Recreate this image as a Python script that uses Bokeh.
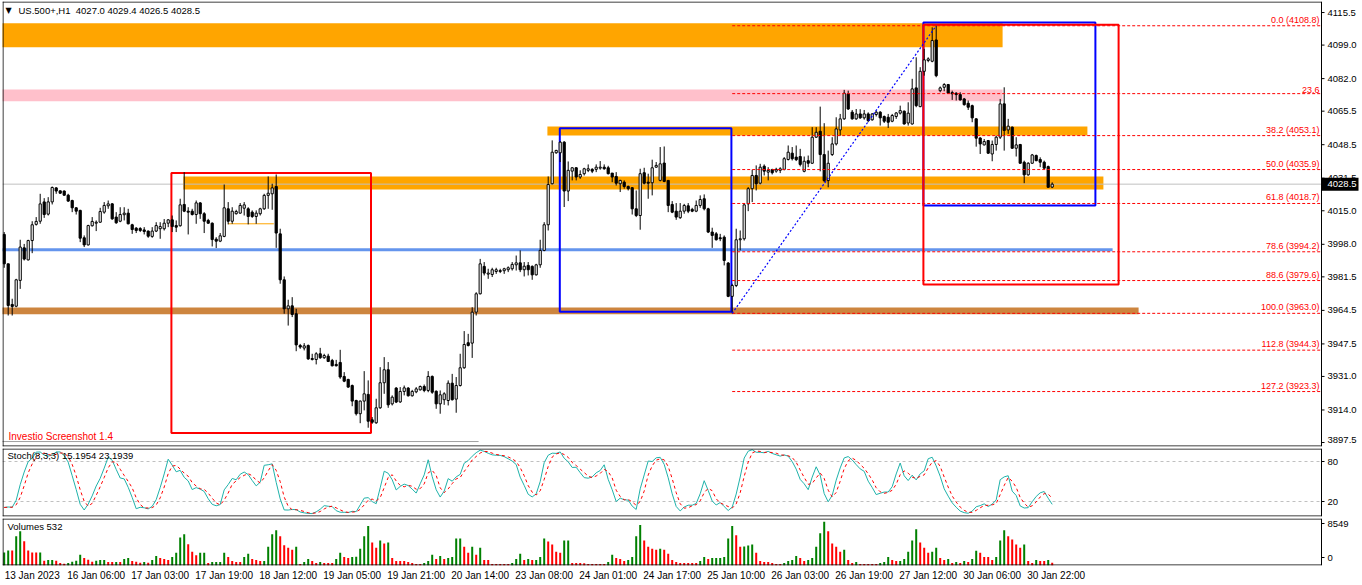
from bokeh.plotting import figure
from bokeh.layouts import column
from bokeh.models import Range1d, FixedTicker, Label
from bokeh.embed import file_html
from bokeh.resources import INLINE
from bokeh.core.properties import value

FONT = "Liberation Sans"

# ---------------- data (US.500+, H1) ----------------
opens = [
 4003.0, 3988.1, 3967.5, 3966.6, 3979.7, 3996.2, 3990.1, 3999.9, 4008.1, 4009.7,
 4019.5, 4013.3, 4019.5, 4026.6, 4025.1, 4025.0, 4022.9, 4020.2, 4016.5, 4015.2,
 4001.3, 3997.7, 4007.4, 4008.7, 4009.2, 4014.3, 4017.5, 4018.5, 4011.8, 4009.7,
 4013.0, 4013.8, 4007.9, 4006.2, 4006.0, 4005.3, 4004.7, 4002.0, 4004.7, 4005.9,
 4005.9, 4008.7, 4010.4, 4007.5, 4007.4, 4018.2, 4014.8, 4014.8, 4013.1, 4019.0,
 4013.5, 4010.1, 4008.7, 4000.6, 3999.6, 4002.0, 4016.0, 4009.7, 4013.5, 4013.8,
 4016.3, 4016.0, 4014.3, 4012.1, 4013.5, 4016.0, 4022.8, 4023.6, 4027.3, 4003.3,
 3980.0, 3965.3, 3966.8, 3962.8, 3946.7, 3945.4, 3946.7, 3940.1, 3939.6, 3942.5,
 3940.5, 3941.3, 3939.1, 3937.1, 3938.1, 3931.0, 3929.5, 3926.4, 3918.8, 3912.1,
 3918.5, 3921.9, 3909.0, 3907.5, 3915.1, 3927.8, 3934.4, 3917.1, 3925.1, 3918.1,
 3923.4, 3925.1, 3921.2, 3923.2, 3924.2, 3925.9, 3923.9, 3931.0, 3923.5, 3917.1,
 3919.2, 3918.8, 3927.6, 3919.5, 3926.4, 3935.4, 3948.1, 3947.9, 3963.6, 3972.9,
 3986.8, 3982.9, 3982.7, 3984.2, 3984.2, 3984.6, 3985.1, 3985.6, 3987.6, 3988.6,
 3985.1, 3987.3, 3986.8, 3982.5, 3987.6, 3994.9, 4007.9, 4028.7, 4044.4, 4044.4,
 4049.8, 4025.0, 4035.1, 4036.8, 4032.1, 4033.8, 4035.5, 4036.0, 4036.0, 4036.6,
 4037.1, 4036.8, 4034.1, 4032.4, 4028.7, 4029.5, 4027.3, 4026.7, 4016.0, 4012.6,
 4034.3, 4029.5, 4029.2, 4037.1, 4030.4, 4039.2, 4030.4, 4018.2, 4014.8, 4011.5,
 4014.8, 4017.5, 4015.7, 4014.8, 4017.7, 4021.1, 4016.0, 4004.2, 4003.3, 4001.3,
 4001.6, 3988.5, 3971.6, 3977.1, 4000.3, 4000.8, 4018.5, 4026.2, 4032.9, 4029.0,
 4037.6, 4034.6, 4035.8, 4035.1, 4035.5, 4036.0, 4041.0, 4044.2, 4042.2, 4042.5,
 4035.0, 4040.4, 4039.1, 4052.3, 4055.3, 4043.5, 4030.3, 4043.5, 4048.9, 4056.0,
 4061.6, 4074.3, 4065.0, 4061.6, 4064.1, 4062.1, 4064.1, 4061.1, 4063.8, 4065.0,
 4062.8, 4062.4, 4060.4, 4062.8, 4064.5, 4065.5, 4059.5, 4059.0, 4077.3, 4067.8,
 4085.7, 4091.2, 4090.8, 4101.6, 4075.9, 4077.6, 4079.0, 4074.9, 4074.6, 4073.9,
 4071.7, 4069.5, 4068.3, 4061.6, 4051.9, 4048.4, 4050.6, 4043.8, 4048.6, 4052.3,
 4069.2, 4056.0, 4057.4, 4046.7, 4048.6, 4039.6, 4033.2, 4039.1, 4043.0, 4041.0,
 4039.6, 4037.4, 4027.0]
highs = [
 4004.2, 3988.1, 3970.4, 3980.5, 4000.3, 3998.2, 4000.3, 4009.7, 4011.8, 4023.6,
 4021.4, 4021.9, 4027.3, 4027.0, 4025.3, 4025.3, 4023.6, 4020.6, 4016.8, 4015.5,
 4002.5, 4007.9, 4011.8, 4010.1, 4016.5, 4019.4, 4020.2, 4018.9, 4014.3, 4016.8,
 4016.8, 4016.0, 4008.4, 4006.7, 4006.7, 4006.7, 4005.0, 4006.7, 4009.2, 4009.2,
 4010.8, 4010.8, 4012.6, 4010.1, 4021.1, 4034.6, 4016.8, 4016.0, 4020.2, 4019.4,
 4014.3, 4010.9, 4009.1, 4001.6, 4003.7, 4028.3, 4019.4, 4016.8, 4015.5, 4018.9,
 4019.4, 4016.8, 4015.2, 4015.2, 4016.5, 4023.6, 4032.4, 4028.7, 4033.4, 4005.9,
 3981.7, 3969.9, 3971.2, 3965.3, 3947.5, 3947.9, 3947.2, 3942.5, 3943.3, 3945.5,
 3942.5, 3942.5, 3939.9, 3939.4, 3944.5, 3933.2, 3929.8, 3926.9, 3919.2, 3918.8,
 3933.7, 3929.0, 3910.4, 3919.7, 3935.7, 3940.8, 3938.3, 3921.4, 3925.6, 3925.6,
 3926.4, 3925.6, 3924.2, 3925.6, 3926.4, 3926.9, 3933.7, 3931.5, 3923.9, 3923.9,
 3923.0, 3929.0, 3932.3, 3930.7, 3942.5, 3954.0, 3952.6, 3966.1, 3973.7, 3990.6,
 3989.0, 3985.6, 3986.1, 3986.1, 3985.6, 3986.1, 3986.8, 3989.0, 3992.3, 3994.9,
 3989.0, 3989.0, 3987.3, 3988.1, 4000.3, 4009.2, 4032.4, 4050.7, 4045.9, 4050.3,
 4050.3, 4040.0, 4037.1, 4037.1, 4035.5, 4036.8, 4038.5, 4036.6, 4038.5, 4040.2,
 4038.5, 4037.8, 4034.1, 4034.6, 4030.7, 4030.4, 4027.8, 4027.0, 4025.3, 4036.3,
 4036.8, 4033.8, 4040.9, 4039.7, 4047.3, 4047.6, 4030.4, 4019.9, 4018.9, 4018.9,
 4018.5, 4018.9, 4016.5, 4020.2, 4022.8, 4023.3, 4016.5, 4006.4, 4004.2, 4003.3,
 4002.5, 3989.0, 3978.0, 4005.9, 4005.0, 4018.9, 4027.0, 4035.8, 4038.0, 4038.8,
 4038.5, 4037.1, 4036.3, 4036.8, 4037.1, 4042.2, 4048.1, 4047.3, 4048.1, 4046.4,
 4042.5, 4043.0, 4057.4, 4057.4, 4067.8, 4059.4, 4045.5, 4052.3, 4062.4, 4064.1,
 4076.3, 4075.9, 4066.1, 4066.6, 4066.5, 4066.1, 4064.9, 4064.5, 4065.8, 4065.5,
 4063.3, 4064.1, 4064.1, 4065.0, 4068.3, 4065.8, 4070.0, 4081.9, 4092.8, 4087.8,
 4097.1, 4092.8, 4108.0, 4108.8, 4078.0, 4079.7, 4079.3, 4075.9, 4075.1, 4075.1,
 4072.2, 4070.9, 4068.8, 4061.9, 4052.3, 4051.4, 4050.9, 4050.6, 4053.1, 4071.7,
 4077.6, 4061.6, 4057.7, 4052.3, 4048.9, 4040.4, 4039.6, 4043.8, 4043.5, 4042.1,
 4040.4, 4037.9, 4029.4]
lows = [
 3986.1, 3961.9, 3961.9, 3966.1, 3975.4, 3989.8, 3989.8, 3993.5, 4007.5, 4008.4,
 4011.4, 4012.6, 4018.2, 4023.6, 4023.6, 4022.6, 4019.5, 4014.3, 4013.1, 3999.1,
 3996.6, 3997.4, 4007.0, 4004.7, 4008.9, 4013.5, 4016.0, 4010.4, 4008.4, 4009.2,
 4010.1, 4008.1, 4003.3, 4003.7, 4004.2, 4003.0, 4001.3, 4001.3, 4004.2, 4000.8,
 4005.0, 4006.7, 4004.2, 4004.2, 4007.0, 4014.3, 4003.0, 4012.6, 4008.4, 4010.9,
 4003.7, 4008.4, 3996.9, 3996.1, 3999.1, 4001.6, 4008.1, 4008.4, 4013.1, 4013.5,
 4012.6, 4008.1, 4011.4, 4008.4, 4012.6, 4015.5, 4016.0, 4015.5, 3996.2, 3978.0,
 3962.8, 3956.8, 3961.1, 3943.8, 3945.0, 3944.2, 3939.4, 3939.1, 3937.1, 3939.9,
 3939.9, 3938.3, 3936.1, 3936.1, 3929.8, 3928.1, 3925.2, 3915.9, 3911.2, 3907.3,
 3913.8, 3905.0, 3907.0, 3907.0, 3914.6, 3922.2, 3915.1, 3916.3, 3917.5, 3917.6,
 3921.4, 3920.8, 3920.8, 3922.5, 3923.9, 3923.0, 3923.0, 3922.2, 3914.6, 3912.1,
 3916.6, 3916.3, 3918.8, 3912.6, 3925.9, 3934.9, 3946.2, 3940.4, 3961.9, 3972.6,
 3982.2, 3980.5, 3981.4, 3983.0, 3983.4, 3983.0, 3983.9, 3984.7, 3984.7, 3983.9,
 3981.7, 3982.2, 3980.0, 3982.2, 3986.1, 3994.5, 4005.0, 4028.4, 4043.9, 4039.7,
 4016.9, 4019.9, 4030.4, 4030.4, 4031.2, 4032.9, 4034.6, 4034.1, 4034.6, 4035.8,
 4035.8, 4033.4, 4029.5, 4027.8, 4024.5, 4026.2, 4025.3, 4013.1, 4011.8, 4005.4,
 4028.4, 4021.1, 4022.8, 4036.8, 4029.9, 4029.5, 4014.3, 4013.8, 4010.4, 4010.9,
 4013.5, 4013.8, 4014.3, 4014.3, 4016.5, 4015.2, 4003.7, 3996.2, 3999.9, 3999.6,
 3987.3, 3971.2, 3963.0, 3976.3, 3994.9, 3999.9, 4014.8, 4019.4, 4025.3, 4028.4,
 4032.9, 4030.4, 4033.4, 4034.3, 4034.1, 4035.5, 4040.5, 4040.5, 4040.2, 4037.5,
 4034.5, 4037.1, 4038.8, 4051.9, 4035.0, 4029.5, 4026.9, 4042.8, 4048.1, 4053.1,
 4061.1, 4066.1, 4061.2, 4061.1, 4061.6, 4061.2, 4059.9, 4060.7, 4062.8, 4058.2,
 4059.5, 4057.0, 4059.9, 4061.6, 4063.8, 4058.7, 4058.2, 4058.7, 4067.5, 4067.5,
 4083.5, 4090.3, 4090.3, 4082.7, 4075.1, 4075.6, 4074.3, 4071.2, 4070.9, 4070.9,
 4068.3, 4066.1, 4059.9, 4047.5, 4043.8, 4048.1, 4043.8, 4040.1, 4045.5, 4051.4,
 4045.5, 4054.0, 4046.4, 4042.5, 4038.8, 4029.0, 4032.8, 4038.8, 4040.1, 4037.1,
 4036.2, 4026.6, 4026.5]
closes = [
 3988.1, 3967.0, 3966.5, 3980.0, 3996.6, 3990.5, 3999.9, 4007.9, 4009.6, 4018.5,
 4013.1, 4019.5, 4026.8, 4025.0, 4023.9, 4022.9, 4019.9, 4016.5, 4014.8, 4001.1,
 3997.7, 4007.5, 4009.6, 4009.2, 4014.6, 4017.7, 4018.5, 4010.9, 4008.9, 4013.1,
 4013.8, 4008.4, 4005.5, 4005.0, 4005.0, 4004.5, 4002.1, 4004.7, 4007.5, 4007.0,
 4008.7, 4010.4, 4007.0, 4006.7, 4018.0, 4014.8, 4014.3, 4013.1, 4019.0, 4013.5,
 4009.7, 4008.7, 4000.4, 3999.6, 4002.3, 4016.5, 4009.7, 4014.8, 4014.6, 4017.7,
 4018.0, 4012.1, 4012.1, 4013.8, 4016.0, 4022.8, 4023.9, 4026.6, 4003.7, 3980.0,
 3965.3, 3966.8, 3962.4, 3947.0, 3945.9, 3946.5, 3939.9, 3939.6, 3942.5, 3940.5,
 3941.6, 3938.6, 3936.4, 3936.4, 3930.7, 3928.6, 3925.6, 3918.5, 3912.1, 3918.5,
 3922.2, 3908.3, 3907.8, 3915.1, 3927.8, 3934.4, 3916.6, 3920.5, 3918.0, 3923.4,
 3925.2, 3921.2, 3923.4, 3924.7, 3925.9, 3923.9, 3931.0, 3923.0, 3917.1, 3921.7,
 3922.2, 3927.6, 3919.2, 3926.4, 3935.4, 3947.2, 3946.7, 3963.6, 3972.9, 3988.1,
 3983.4, 3983.4, 3985.1, 3985.1, 3984.7, 3985.6, 3986.1, 3987.8, 3988.6, 3985.1,
 3986.9, 3985.1, 3982.5, 3987.6, 3994.9, 4007.9, 4028.3, 4044.7, 4045.6, 4049.8,
 4025.0, 4035.5, 4036.8, 4032.1, 4033.4, 4036.3, 4036.3, 4035.1, 4037.1, 4037.1,
 4036.3, 4033.8, 4032.1, 4029.0, 4030.4, 4027.3, 4026.2, 4016.0, 4012.6, 4033.8,
 4029.0, 4029.0, 4036.8, 4038.0, 4038.8, 4029.9, 4017.7, 4014.3, 4011.8, 4014.8,
 4017.7, 4014.8, 4014.8, 4017.7, 4020.7, 4016.0, 4004.2, 4002.5, 4000.3, 4000.8,
 3989.8, 3971.6, 3977.1, 4000.3, 4000.8, 4018.0, 4026.2, 4032.9, 4028.7, 4037.1,
 4035.1, 4035.5, 4034.3, 4036.0, 4036.3, 4041.4, 4044.7, 4041.4, 4040.9, 4038.5,
 4040.1, 4039.1, 4052.3, 4054.8, 4043.5, 4030.3, 4039.1, 4048.9, 4056.5, 4061.6,
 4074.6, 4066.6, 4061.6, 4064.1, 4062.1, 4064.1, 4060.7, 4064.1, 4065.0, 4062.1,
 4060.4, 4059.9, 4063.3, 4064.6, 4065.8, 4059.0, 4064.5, 4076.8, 4068.3, 4085.7,
 4091.5, 4092.0, 4101.3, 4083.5, 4077.3, 4079.0, 4074.6, 4074.3, 4073.9, 4071.2,
 4068.8, 4067.5, 4062.1, 4051.8, 4048.9, 4050.1, 4044.2, 4048.6, 4052.3, 4069.2,
 4055.7, 4057.9, 4046.7, 4048.4, 4039.1, 4033.2, 4039.1, 4043.3, 4040.4, 4039.6,
 4036.6, 4026.9, 4028.5]
volumes = [
 2550, 2950, 2950, 5700, 6700, 4760, 2950, 2550, 2540, 2560,
 940, 1070, 1080, 940, 470, 335, 470, 740, 940, 2080,
 1470, 1140, 740, 940, 1070, 1080, 670, 670, 680, 670,
 1270, 1470, 870, 740, 540, 670, 540, 1070, 1880, 1470,
 1270, 1070, 1680, 2480, 5490, 6100, 4150, 2680, 2010, 2480,
 2490, 470, 670, 680, 690, 2480, 1680, 870, 670, 670,
 1680, 2280, 1270, 1070, 870, 880, 3690, 6100, 6900, 5700,
 3950, 3480, 3080, 3690, 270, 670, 1270, 870, 470, 670,
 470, 470, 470, 1270, 2480, 1680, 1470, 1680, 1690, 3280,
 5700, 7700, 4490, 3480, 4890, 4290, 4490, 1470, 870, 870,
 870, 670, 470, 270, 270, 470, 870, 2080, 1270, 1880,
 1270, 1470, 1680, 5290, 5300, 3690, 2480, 3690, 2080, 3480,
 1070, 1070, 270, 270, 270, 270, 270, 470, 1270, 2280,
 1070, 1270, 1070, 1080, 1680, 5290, 4690, 4090, 2680, 2480,
 4890, 4900, 470, 470, 470, 460, 270, 270, 270, 270,
 270, 670, 2080, 1470, 1270, 870, 1070, 1680, 5700, 7900,
 4890, 3690, 3280, 3080, 3290, 3080, 2280, 1070, 670, 470,
 470, 470, 470, 470, 870, 1680, 1270, 1470, 1480, 1490,
 1680, 5290, 7700, 5900, 3690, 3700, 3890, 4090, 2480, 870,
 670, 670, 470, 270, 270, 470, 870, 1070, 1880, 1470,
 870, 1070, 1470, 3690, 6300, 8549, 6700, 4290, 3690, 2680,
 3080, 1070, 470, 670, 270, 270, 270, 270, 270, 470,
 670, 1680, 1070, 870, 880, 1270, 2680, 4890, 7100, 4490,
 3480, 2480, 2680, 3480, 1470, 1070, 1270, 470, 670, 470,
 870, 670, 1270, 2880, 2480, 1680, 1680, 1070, 1680, 4890,
 6900, 5700, 5090, 4090, 3480, 4090, 870, 470, 1070, 870,
 870, 1070, 532]

time_labels = ["13 Jan 2023", "16 Jan 06:00", "17 Jan 03:00", "17 Jan 19:00",
               "18 Jan 12:00", "19 Jan 05:00", "19 Jan 21:00", "20 Jan 14:00",
               "23 Jan 08:00", "24 Jan 01:00", "24 Jan 17:00", "25 Jan 10:00",
               "26 Jan 03:00", "26 Jan 19:00", "27 Jan 12:00", "30 Jan 06:00",
               "30 Jan 22:00"]
time_label_step = 16  # bars between time labels

price_ticks = [4115.5, 4099.0, 4082.0, 4065.5, 4048.5, 4031.5, 4015.0,
               3998.0, 3981.5, 3964.5, 3947.5, 3931.0, 3914.0, 3897.5]
stoch_levels = [80, 20]

# chart objects (bar index / price anchors)
zone_left = [-5, -5, 135.8, 44.8]
zone_right = [249.6, 249.6, 270.8, 274.8]
zone_top = [4110.1, 4076.5, 4057.7, 4032.4]
zone_bottom = [4097.9, 4070.5, 4053.1, 4025.8]
zone_color = ["#FFA500", "#FFC0CB", "#FFA500", "#FFA500"]

support_left, support_right = -5, 283.6
support_top, support_bottom = 3965.9, 3962.5
hline_price, hline_right = 3995.2, 277.1
small_line_price, small_line_x = 4008.4, [56.0, 67.4]
gray_line_price, gray_line_right = 3898.0, 118.6

box_left = [41.8, 138.9, 229.8, 229.8]
box_right = [91.7, 181.8, 272.8, 278.6]
box_top = [4034.1, 4056.8, 4110.4, 4109.3]
box_bottom = [3902.3, 3963.8, 4017.7, 3977.6]
box_color = ["red", "blue", "blue", "red"]

fib_bar_low, fib_bar_high = 182, 233
fib_ratios = [0.0, 23.6, 38.2, 50.0, 61.8, 78.6, 88.6, 100.0, 112.8, 127.2]

# ---------------- layout constants ----------------
n = len(closes)
idx = list(range(n))
W = 1362
PX = 0.25              # bars per screen pixel
X0 = -0.425            # left frame edge (bar units)
X1 = X0 + 1319 * PX    # price-scale line
X1E = X0 + 1360 * PX   # right edge of every panel's frame
xr = Range1d(X0, X1E)
PY = 0.507             # price per pixel in main panel
YT = 4121.1
YB = YT - 445 * PY


def rx(xref):
    return X0 + (xref - 2) * PX


def ry(yref):
    return YT - (yref - 1) * PY


def base_fig(h, yrange, top=1, bottom=1, xaxis=None):
    f = figure(width=W, height=h, x_range=xr, y_range=yrange,
               output_backend="svg", toolbar_location=None,
               y_axis_location=None, x_axis_location=xaxis,
               min_border_left=2, min_border_right=0,
               min_border_top=top, min_border_bottom=bottom)
    f.grid.visible = False
    f.outline_line_color = None
    f.background_fill_color = "white"
    f.border_fill_color = "white"
    return f


def frame_and_scale(f, y0, y1, py, tick_vals, label_vals, label_texts):
    """Panel border plus an MT4-style price scale drawn right of the panel."""
    f.segment(x0=[X0, X0, X0 + 0.5 * PX, X1], x1=[X1, X1, X0 + 0.5 * PX, X1],
              y0=[y1 - 0.5 * py, y0 + 0.5 * py, y0, y0],
              y1=[y1 - 0.5 * py, y0 + 0.5 * py, y1, y1],
              line_color="black", line_width=1)
    f.segment(x0=[X1] * len(tick_vals), x1=[X1 + 3 * PX] * len(tick_vals),
              y0=tick_vals, y1=tick_vals, line_color="black", line_width=1)
    f.text(x=[X1 + 6 * PX] * len(label_vals), y=label_vals, text=label_texts,
           text_align="left", text_baseline="middle", text_color="black",
           text_font=value(FONT), text_font_size=value("9.5px"))


# ---------------- main price panel ----------------
p = base_fig(447, Range1d(YB, YT))

p.quad(left=zone_left, right=zone_right, top=zone_top, bottom=zone_bottom,
       fill_color=zone_color, line_color=None)
p.quad(left=[support_left], right=[support_right], top=[support_top],
       bottom=[support_bottom], fill_color="#CD853F", line_color=None)
p.segment(x0=[-5], x1=[hline_right], y0=[hline_price], y1=[hline_price],
          line_color="#6495ED", line_width=3)
p.segment(x0=[small_line_x[0]], x1=[small_line_x[1]], y0=[small_line_price],
          y1=[small_line_price], line_color="#FFA500", line_width=1)
p.segment(x0=[-5], x1=[gray_line_right], y0=[gray_line_price], y1=[gray_line_price],
          line_color="#A0A0A0", line_width=1)
p.segment(x0=[X0], x1=[X1], y0=[closes[-1]], y1=[closes[-1]],
          line_color="#C0C0C0", line_width=1)
p.quad(left=box_left, right=box_right, top=box_top, bottom=box_bottom,
       fill_color=None, line_color=box_color, line_width=2)

# candles
up = [i for i in idx if closes[i] >= opens[i]]
dn = [i for i in idx if closes[i] < opens[i]]
p.segment(x0=idx, y0=lows, x1=idx, y1=highs, line_color="black", line_width=1)
p.vbar(x=up, width=0.55, bottom=[opens[i] for i in up], top=[closes[i] for i in up],
       fill_color="white", line_color="black", line_width=1)
p.vbar(x=dn, width=0.55, bottom=[closes[i] for i in dn], top=[opens[i] for i in dn],
       fill_color="black", line_color="black", line_width=1)

# fibonacci retracement
fib_lo = lows[fib_bar_low]
fib_hi = highs[fib_bar_high]
fib_levels = [fib_hi - r / 100.0 * (fib_hi - fib_lo) for r in fib_ratios]
fib_text = [("%.1f" % r) if abs(r - 23.6) < 1e-9 else "%.1f (%.1f)" % (r, lv)
            for r, lv in zip(fib_ratios, fib_levels)]
nf = len(fib_levels)
p.segment(x0=[fib_bar_low] * nf, x1=[X1] * nf, y0=fib_levels, y1=fib_levels,
          line_color="red", line_dash="3 2", line_width=1)
p.text(x=[X1 - 2 * PX] * nf, y=[lv + 1 * PY for lv in fib_levels], text=fib_text,
       text_align="right", text_baseline="bottom", text_color="red",
       text_font=value(FONT), text_font_size=value("9px"))
p.line(x=[fib_bar_low, fib_bar_high], y=[fib_lo, fib_hi], line_color="#0000FF",
       line_dash="2 2", line_width=1.2)

# price scale
tick_label_y = [t if (t - YB) > 7 * PY else YB + 7 * PY for t in price_ticks]
frame_and_scale(p, YB, YT, PY, price_ticks, tick_label_y, ["%.1f" % t for t in price_ticks])
p.quad(left=[X1 + 0.5 * PX], right=[X1 + 37 * PX], top=[closes[-1] + 6.5 * PY],
       bottom=[closes[-1] - 6.5 * PY], fill_color="black", line_color=None)
p.text(x=[X1 + 6 * PX], y=[closes[-1]], text=["%.1f" % closes[-1]], text_align="left",
       text_baseline="middle", text_color="white",
       text_font=value(FONT), text_font_size=value("9.5px"))

# texts
p.add_layout(Label(x=rx(5), y=ry(10), text="\u25BC", text_font="DejaVu Sans",
                   text_font_size="8px", text_baseline="middle", text_color="black"))
p.add_layout(Label(x=rx(18), y=ry(10),
                   text="US.500+,H1\u00a0 %.1f %.1f %.1f %.1f" % (opens[-1], highs[-1], lows[-1], closes[-1]),
                   text_font=FONT, text_font_size="9.5px", text_baseline="middle",
                   text_color="black"))
p.add_layout(Label(x=rx(8), y=ry(436), text="Investio Screenshot 1.4", text_font=FONT,
                   text_font_size="10px", text_baseline="middle", text_color="red"))

# ---------------- stochastic panel ----------------
K_PER, SLOW, D_PER = 8, 3, 3
stoch_k = []
for i in idx:
    num = 0.0
    den = 0.0
    for j in range(max(0, i - SLOW + 1), i + 1):
        lo = min(lows[max(0, j - K_PER + 1):j + 1])
        hi = max(highs[max(0, j - K_PER + 1):j + 1])
        num += closes[j] - lo
        den += hi - lo
    stoch_k.append(100.0 * num / den if den > 0 else 50.0)
stoch_d = []
for i in idx:
    win = stoch_k[max(0, i - D_PER + 1):i + 1]
    stoch_d.append(sum(win) / len(win))

SY0, SY1 = -2.5, 99.5
SPY = (SY1 - SY0) / 68.0
s = base_fig(70, Range1d(SY0, SY1))
s.segment(x0=[X0] * 2, x1=[X1] * 2, y0=stoch_levels, y1=stoch_levels,
          line_color="#C0C0C0", line_dash="3 3", line_width=1)
s.line(x=idx, y=stoch_k, line_color="#20B2AA", line_width=1)
s.line(x=idx, y=stoch_d, line_color="red", line_dash="3 3", line_width=1)
frame_and_scale(s, SY0, SY1, SPY, stoch_levels, stoch_levels, [str(l) for l in stoch_levels])
s.add_layout(Label(x=rx(7), y=SY1 - 7 * SPY,
                   text="Stoch(8,3,3) 15.1954 23.1939", text_font=FONT,
                   text_font_size="9.5px", text_baseline="middle", text_color="black"))

# ---------------- volume panel ----------------
VY1 = 9190
VPY = VY1 / 47.0
v = base_fig(68, Range1d(0, VY1), top=1, bottom=20, xaxis="below")
vcol = ["#008000" if (i == 0 or volumes[i] > volumes[i - 1]) else "#FF0000" for i in idx]
v.vbar(x=idx, width=0.5, top=volumes, bottom=0, fill_color=vcol, line_color=None)
vol_label_y = [VY1 - 5 * VPY, 8 * VPY]
frame_and_scale(v, 0, VY1, VPY, vol_label_y, vol_label_y, [str(max(volumes)), "0"])
v.add_layout(Label(x=rx(7), y=VY1 - 8 * VPY, text="Volumes %d" % volumes[-1],
                   text_font=FONT, text_font_size="9.5px", text_baseline="middle",
                   text_color="black"))

xa = v.xaxis[0]
tick_pos = [i * time_label_step + 7 for i in range(len(time_labels))]
xa.ticker = FixedTicker(ticks=tick_pos)
xa.major_label_overrides = {t: lab for t, lab in zip(tick_pos, time_labels)}
xa.major_tick_out = 0
xa.major_tick_in = 0
xa.minor_tick_out = 0
xa.minor_tick_in = 0
xa.major_label_text_font = FONT
xa.major_label_text_font_size = "10px"
xa.major_label_text_color = "black"
xa.major_label_standoff = 4
xa.axis_line_color = None

layout = column(p, s, v, spacing=0)
open("out.html", "w").write(file_html(layout, INLINE))
